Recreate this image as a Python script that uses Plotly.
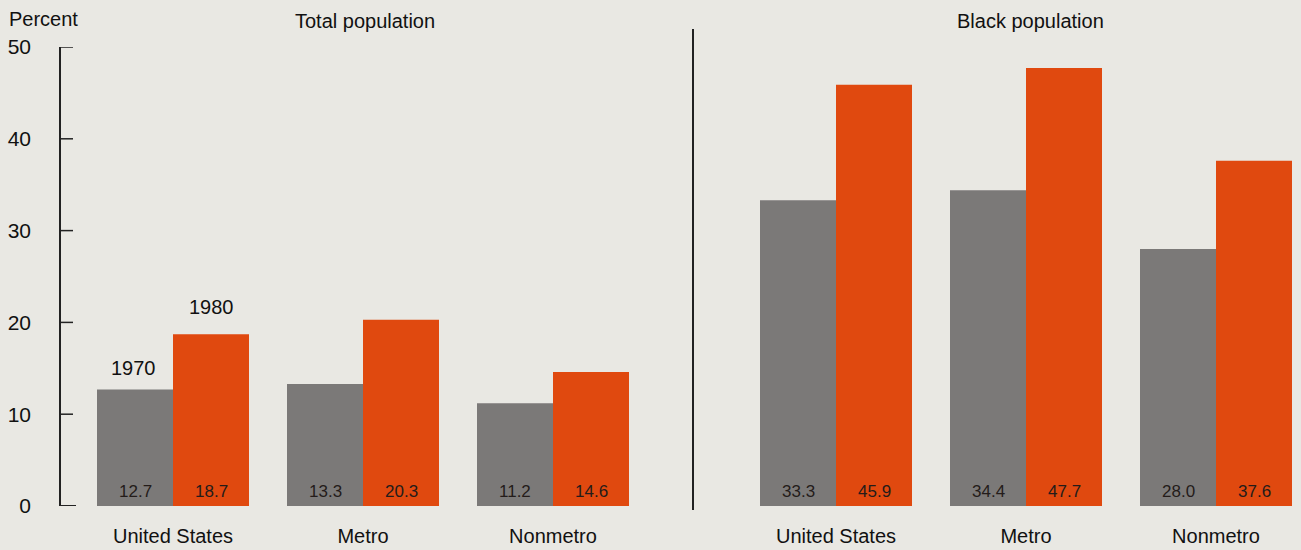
import plotly.graph_objects as go

categories = ["United States", "Metro", "Nonmetro"]
total_1970 = [12.7, 13.3, 11.2]
total_1980 = [18.7, 20.3, 14.6]
black_1970 = [33.3, 34.4, 28.0]
black_1980 = [45.9, 47.7, 37.6]
y_ticks = [0, 10, 20, 30, 40, 50]

GRAY = "#7b7978"
ORANGE = "#e0490f"
BG = "#e9e8e3"
FONT = "Liberation Sans, Arial, sans-serif"
W, H = 1301, 550

def px_x(p):
    return p / W

def px_y(p):
    return 1 - p / H

fig = go.Figure()
val_font = dict(family=FONT, size=17, color="#241c1a")

for xa, ya, s70, s80 in [("x", "y", total_1970, total_1980), ("x2", "y2", black_1970, black_1980)]:
    fig.add_trace(go.Bar(x=categories, y=s70, marker=dict(color=GRAY, line=dict(width=0)),
                         xaxis=xa, yaxis=ya, showlegend=False, hoverinfo="skip"))
    fig.add_trace(go.Bar(x=categories, y=s80, marker=dict(color=ORANGE, line=dict(width=0)),
                         xaxis=xa, yaxis=ya, showlegend=False, hoverinfo="skip"))
    for c, v70, v80 in zip(categories, s70, s80):
        fig.add_annotation(x=c, y=0, xref=xa, yref=ya, text=f"{v70:.1f}", xshift=-38, yshift=3,
                           yanchor="bottom", xanchor="center", showarrow=False, font=val_font)
        fig.add_annotation(x=c, y=0, xref=xa, yref=ya, text=f"{v80:.1f}", xshift=38, yshift=3,
                           yanchor="bottom", xanchor="center", showarrow=False, font=val_font)

ydom = [px_y(506), px_y(47)]
xcommon = dict(type="category", showline=False, showgrid=False, zeroline=False, automargin=False,
               ticks="", ticklabelstandoff=16, tickfont=dict(family=FONT, size=20, color="#111"))
fig.update_layout(
    width=W, height=H, margin=dict(l=0, r=0, t=0, b=0, autoexpand=False),
    paper_bgcolor=BG, plot_bgcolor="rgba(0,0,0,0)",
    barmode="group", bargap=0.2, bargroupgap=0,
    xaxis=dict(domain=[px_x(78), px_x(648)], range=[-0.5, 2.5], anchor="y", **xcommon),
    xaxis2=dict(domain=[px_x(741), 1.0], range=[-0.5, 2.5 - 10 / 190], anchor="y2", **xcommon),
    yaxis=dict(domain=ydom, range=[0, 50], tickvals=y_ticks, anchor="free", position=px_x(60),
               showline=True, linecolor="#222", linewidth=1.5, ticks="", automargin=False,
               showgrid=False, zeroline=False, ticklabelstandoff=24,
               tickfont=dict(family=FONT, size=21, color="#111")),
    yaxis2=dict(domain=ydom, range=[0, 50], anchor="x2", visible=False, automargin=False),
    font=dict(family=FONT),
)

for t in y_ticks:
    fig.add_shape(type="line", xref="paper", yref="y", x0=px_x(60), x1=px_x(73 if t else 76),
                  y0=t, y1=t, line=dict(color="#222", width=1.5 if t else 2))

fig.add_shape(type="line", xref="paper", yref="paper", x0=px_x(693), x1=px_x(693),
              y0=px_y(29), y1=px_y(510), line=dict(color="#222", width=2))

ann = dict(showarrow=False, font=dict(family=FONT, size=20, color="#111"))
fig.add_annotation(x=px_x(7), y=px_y(19), xref="paper", yref="paper", text="Percent",
                   xanchor="left", yanchor="middle", **ann)
fig.add_annotation(x=px_x(365), y=px_y(21), xref="paper", yref="paper", text="Total population",
                   xanchor="center", yanchor="middle", **ann)
fig.add_annotation(x=px_x(1030), y=px_y(21), xref="paper", yref="paper", text="Black population",
                   xanchor="center", yanchor="middle", **ann)
fig.add_annotation(x=categories[0], y=total_1970[0], xref="x", yref="y", text="1970",
                   xshift=-40, yshift=8, xanchor="center", yanchor="bottom", **ann)
fig.add_annotation(x=categories[0], y=total_1980[0], xref="x", yref="y", text="1980",
                   xshift=38, yshift=14, xanchor="center", yanchor="bottom", **ann)

fig.write_html("out.html")
